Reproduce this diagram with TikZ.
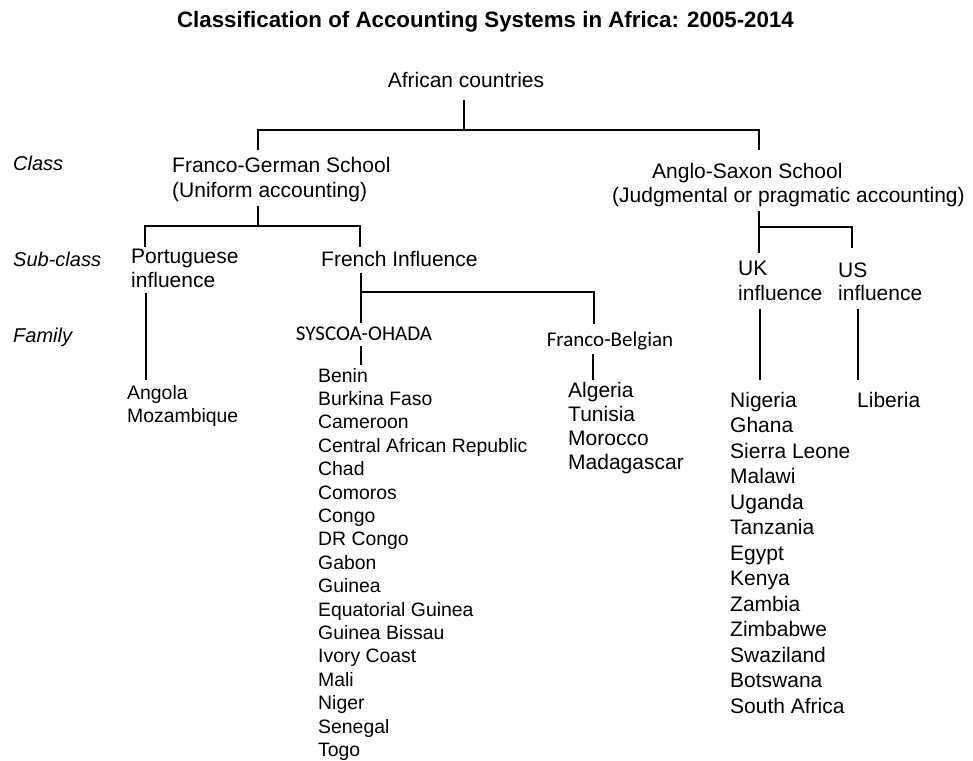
\documentclass[tikz,border=0pt]{standalone}
\usepackage{fontspec}
\setmainfont{Liberation Sans}
\newfontfamily\calibri{Carlito}
\begin{document}
\begin{tikzpicture}[x=1pt,y=-1pt,
  ttl/.style={anchor=base,inner sep=0pt,font=\fontsize{22.3}{26}\selectfont\bfseries},
  lbl/.style={anchor=base west,inner sep=0pt,font=\fontsize{21}{25}\selectfont},
  lblc/.style={anchor=base,inner sep=0pt,font=\fontsize{21}{25}\selectfont},
  side/.style={anchor=base west,inner sep=0pt,font=\fontsize{20}{24}\selectfont\itshape},
  fam/.style={anchor=base,inner sep=0pt,font=\fontsize{21}{25}\selectfont\calibri},
  small/.style={anchor=base west,inner sep=0pt,font=\fontsize{19.4}{23}\selectfont},
  big/.style={anchor=base west,inner sep=0pt,font=\fontsize{21}{25}\selectfont},
  conn/.style={line width=2.8pt,line join=miter}]
\useasboundingbox (0,0) rectangle (973,760);
\fill[white] (0,0) rectangle (973,760);

% title and root
\node[ttl] (title) at (485.5,28) {Classification of Accounting Systems in Africa: 2005-2014};
\node[lblc] (afr) at (466,87) {African countries};

% side labels
\node[side] (lclass) at (13,170) {Class};
\node[side] (lsub) at (13,266) {Sub-class};
\node[side] (lfam) at (13,342) {Family};

% class level
\node[lbl] (fg1) at (172,172) {Franco-German School};
\node[lbl] (fg2) at (172,197) {(Uniform accounting)};
\node[lbl] (as1) at (652,178) {Anglo-Saxon School};
\node[lbl] (as2) at (612,202) {(Judgmental or pragmatic accounting)};

% sub-class level
\node[lbl] (pt1) at (131,263) {Portuguese};
\node[lbl] (pt2) at (131,287) {influence};
\node[lbl] (fr) at (321,266) {French Influence};
\node[lbl] (uk1) at (738,275) {UK};
\node[lbl] (uk2) at (738,300) {influence};
\node[lbl] (us1) at (838,277) {US};
\node[lbl] (us2) at (838,300) {influence};

% family level
\node[fam] (sys) at (364,340) {SYSCOA-OHADA};
\node[fam] (fb) at (610,346) {Franco-Belgian};

% country lists
\node[small] (ang) at (127,399) {Angola};
\node[small] (moz) at (127,422) {Mozambique};

\foreach \c [count=\i from 0] in {Benin,Burkina Faso,Cameroon,Central African Republic,Chad,Comoros,Congo,DR Congo,Gabon,Guinea,Equatorial Guinea,Guinea Bissau,Ivory Coast,Mali,Niger,Senegal,Togo}
  \node[small] (oh\i) at (318,382+23.4*\i) {\c};

\foreach \c [count=\i from 0] in {Algeria,Tunisia,Morocco,Madagascar}
  \node[big] (fbl\i) at (568,397+24*\i) {\c};

\foreach \c [count=\i from 0] in {Nigeria,Ghana,Sierra Leone,Malawi,Uganda,Tanzania,Egypt,Kenya,Zambia,Zimbabwe,Swaziland,Botswana,South Africa}
  \node[big] (ukl\i) at (730,407+25.5*\i) {\c};

\node[big] (lib) at (857,407) {Liberia};

% connector coordinates
\coordinate (afrB) at (464,100);
\coordinate (j1) at (464,130);
\coordinate (fgT) at (258,150);
\coordinate (asT) at (759,150);
\coordinate (fgB) at (258,206);
\coordinate (j2) at (258,226);
\coordinate (ptT) at (145,247);
\coordinate (frT) at (360,247);
\coordinate (asB) at (759,211);
\coordinate (j3) at (759,227);
\coordinate (ukT) at (759,253);
\coordinate (usT) at (852,248);
\coordinate (ptB) at (146,293);
\coordinate (angT) at (146,380);
\coordinate (frB) at (361,273);
\coordinate (j4) at (361,292);
\coordinate (sysT) at (361,323);
\coordinate (fbT) at (594,324);
\coordinate (sysB) at (361,346);
\coordinate (ohT) at (361,365);
\coordinate (fbB) at (593,354);
\coordinate (fblT) at (593,380);
\coordinate (ukB) at (760,309);
\coordinate (uklT) at (760,380);
\coordinate (usB) at (858,309);
\coordinate (libT) at (858,380);

% connectors
\draw[conn] (afrB) -- (j1);
\draw[conn] (fgT) |- (j1) -| (asT);
\draw[conn] (fgB) -- (j2);
\draw[conn] (ptT) |- (j2) -| (frT);
\draw[conn] (asB) -- (ukT);
\draw[conn] (j3) -| (usT);
\draw[conn] (ptB) -- (angT);
\draw[conn] (frB) -- (sysT);
\draw[conn] (j4) -| (fbT);
\draw[conn] (sysB) -- (ohT);
\draw[conn] (fbB) -- (fblT);
\draw[conn] (ukB) -- (uklT);
\draw[conn] (usB) -- (libT);
\end{tikzpicture}
\end{document}
